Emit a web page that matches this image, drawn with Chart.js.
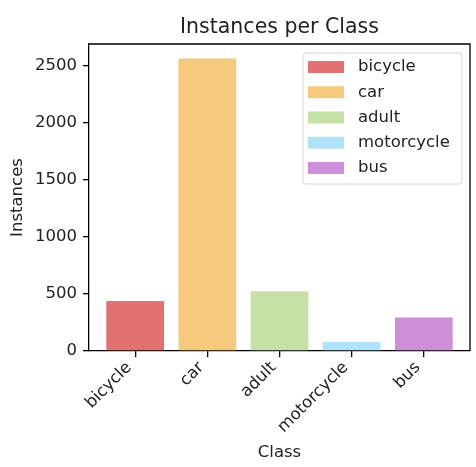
<!DOCTYPE html>
<html>
<head>
<meta charset="utf-8">
<script src="https://cdn.jsdelivr.net/npm/chart.js@4"></script>
<style>
html, body { margin: 0; padding: 0; background: #fff; }
</style>
</head>
<body>
<canvas id="myChart" width="476" height="467"></canvas>
<script>
var classes = ['bicycle', 'car', 'adult', 'motorcycle', 'bus'];
var counts = [439, 2562, 524, 79, 293];
var colors = ['#e27171', '#f6c97c', '#c6e1a5', '#b0e2fa', '#ce8fd9'];
var yTicks = [0, 500, 1000, 1500, 2000, 2500];
var chartTitle = 'Instances per Class';

var FONT = '"DejaVu Sans", sans-serif';
var TXT = '#222';

// frame, title and boxed legend like matplotlib
var decor = {
    id: 'decor',
    afterDraw: function (chart) {
        var c = chart.ctx, a = chart.chartArea;
        c.save();
        c.strokeStyle = '#000';
        c.lineWidth = 1.3;
        c.beginPath();
        c.moveTo(a.left, a.top);
        c.lineTo(a.right, a.top);
        c.lineTo(a.right, a.bottom);
        c.stroke();

        c.fillStyle = TXT;
        c.font = '20.5px ' + FONT;
        c.textAlign = 'center';
        c.textBaseline = 'alphabetic';
        c.fillText(chartTitle, (a.left + a.right) / 2, a.top - 11);

        var bw = 159, bh = 131;
        var bx = a.right - 8 - bw, by = a.top + 9;
        c.beginPath();
        c.roundRect(bx, by, bw, bh, 3);
        c.fillStyle = 'rgba(255,255,255,0.8)';
        c.fill();
        c.strokeStyle = '#d6d6d6';
        c.lineWidth = 1;
        c.stroke();

        c.font = '16.5px ' + FONT;
        c.textAlign = 'left';
        c.textBaseline = 'middle';
        classes.forEach(function (name, i) {
            var cy = by + 14 + i * 25.25;
            c.fillStyle = colors[i];
            c.fillRect(bx + 5, cy - 6, 36, 12);
            c.fillStyle = TXT;
            c.fillText(name, bx + 55, cy);
        });
        c.restore();
    }
};

var ctx = document.getElementById('myChart').getContext('2d');
new Chart(ctx, {
    type: 'bar',
    data: {
        datasets: [{
            data: classes.map(function (name, i) { return {x: i, y: counts[i]}; }),
            backgroundColor: colors,
            borderWidth: 0,
            barPercentage: 0.8,
            categoryPercentage: 1.0
        }]
    },
    options: {
        responsive: false,
        animation: false,
        layout: { padding: { top: 44, right: 6, left: 0, bottom: 0 } },
        plugins: {
            legend: { display: false },
            tooltip: { enabled: false }
        },
        scales: {
            x: {
                type: 'linear',
                offset: false,
                min: -0.64,
                max: 4.64,
                afterBuildTicks: function (axis) {
                    axis.ticks = classes.map(function (n, i) { return {value: i}; });
                },
                afterFit: function (s) { s.height = 116; },
                grid: { display: true, offset: false, drawOnChartArea: false, drawTicks: true, tickLength: 6, color: '#000', lineWidth: 1.3 },
                border: { display: true, color: '#000', width: 1.3 },
                ticks: {
                    autoSkip: false,
                    minRotation: 45,
                    maxRotation: 45,
                    padding: 1,
                    labelOffset: -6,
                    color: TXT,
                    font: { family: FONT, size: 16.5 },
                    callback: function (v) { return classes[v]; }
                },
                title: {
                    display: true,
                    text: 'Class',
                    color: TXT,
                    font: { family: FONT, size: 16.5 },
                    padding: { top: 0, bottom: 4 }
                }
            },
            y: {
                min: 0,
                max: 2690,
                afterBuildTicks: function (axis) {
                    axis.ticks = yTicks.map(function (v) { return {value: v}; });
                },
                afterFit: function (s) { s.width = 89; },
                grid: { display: true, drawOnChartArea: false, drawTicks: true, tickLength: 6, color: '#000', lineWidth: 1.3 },
                border: { display: true, color: '#000', width: 1.3 },
                ticks: {
                    padding: 6,
                    color: TXT,
                    font: { family: FONT, size: 16.5 },
                    callback: function (v) { return String(v); }
                },
                title: {
                    display: true,
                    text: 'Instances',
                    color: TXT,
                    font: { family: FONT, size: 16.5 },
                    padding: { top: 8, bottom: 0 }
                }
            }
        }
    },
    plugins: [decor]
});
</script>
</body>
</html>
